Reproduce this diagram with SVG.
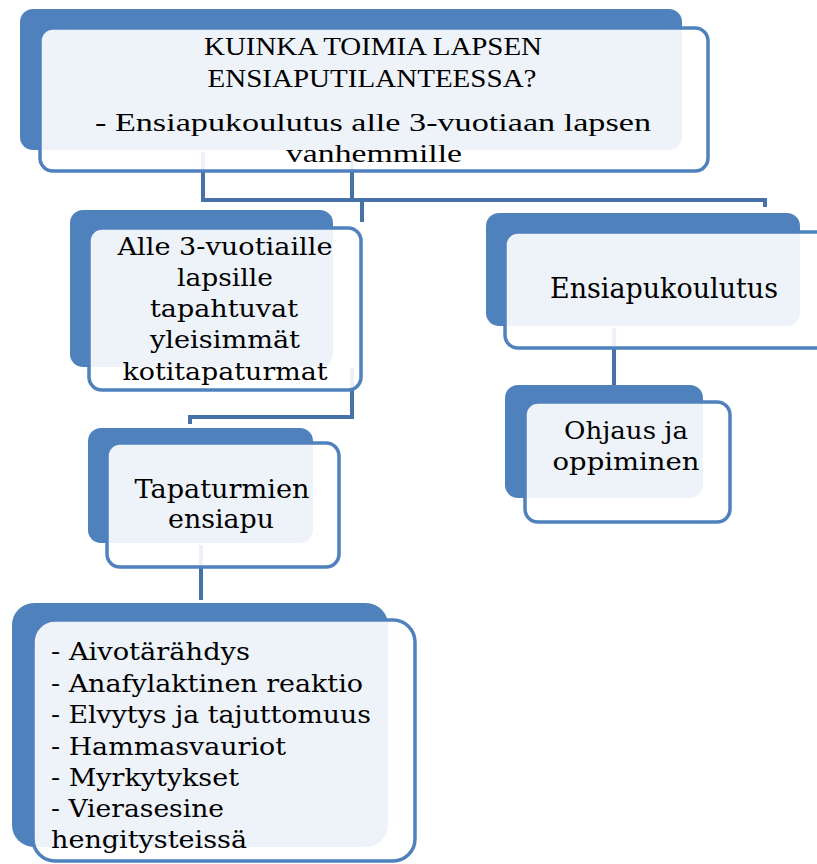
<svg xmlns="http://www.w3.org/2000/svg" width="817" height="864" viewBox="0 0 817 864">
<style>
.back{fill:#4F81BD;}
.front{fill:#FFFFFF;fill-opacity:0.9;stroke:#4F81BD;stroke-width:3.5;}
.conn{fill:none;stroke:#4672A8;stroke-width:4;}
.t{font-size:25px;text-anchor:middle;fill:#000;}
.title{font-size:25px;text-anchor:middle;fill:#000;}
.list{font-size:24px;fill:#000;}
</style>
<rect width="817" height="864" fill="#FFFFFF"/>
<g id="connectors">
<path class="conn" d="M203,152 V200 H765 V207"/>
<path class="conn" d="M352,152 V200"/>
<path class="conn" d="M362,200 V222"/>
<path class="conn" d="M352,368 V417 H190 V424"/>
<path class="conn" d="M614,328 V385"/>
<path class="conn" d="M201,545 V600"/>
</g>
<g id="node-root" font-family="Liberation Serif, serif">
<rect class="back" x="20" y="9" width="662" height="141" rx="13"/>
<rect class="front" x="40" y="28" width="668" height="143" rx="13"/>
<text class="title" x="373" y="55" textLength="338" lengthAdjust="spacingAndGlyphs">KUINKA TOIMIA LAPSEN</text>
<text class="title" x="372" y="87" textLength="329" lengthAdjust="spacingAndGlyphs">ENSIAPUTILANTEESSA?</text>
<text class="title" x="373" y="131" textLength="556" lengthAdjust="spacingAndGlyphs">- Ensiapukoulutus alle 3-vuotiaan lapsen</text>
<text class="title" x="374" y="162" textLength="176" lengthAdjust="spacingAndGlyphs">vanhemmille</text>
</g>
<g id="node-alle" font-family="DejaVu Serif, serif">
<rect class="back" x="70" y="210" width="263" height="157" rx="13"/>
<rect class="front" x="89" y="228" width="272" height="162" rx="13"/>
<text class="t" x="225" y="255" textLength="215" lengthAdjust="spacingAndGlyphs">Alle 3-vuotiaille</text>
<text class="t" x="225" y="286" textLength="96" lengthAdjust="spacingAndGlyphs">lapsille</text>
<text class="t" x="224" y="317" textLength="148" lengthAdjust="spacingAndGlyphs">tapahtuvat</text>
<text class="t" x="225" y="348" textLength="150" lengthAdjust="spacingAndGlyphs">yleisimmät</text>
<text class="t" x="225" y="380" textLength="205" lengthAdjust="spacingAndGlyphs">kotitapaturmat</text>
</g>
<g id="node-ensiapukoulutus" font-family="DejaVu Serif, serif">
<rect class="back" x="486" y="213" width="314" height="113" rx="13"/>
<rect class="front" x="505" y="232" width="330" height="116" rx="13"/>
<text class="t" x="664" y="298" textLength="228" lengthAdjust="spacingAndGlyphs" style="font-size:27px">Ensiapukoulutus</text>
</g>
<g id="node-ohjaus" font-family="DejaVu Serif, serif">
<rect class="back" x="505" y="385" width="198" height="113" rx="13"/>
<rect class="front" x="525" y="402" width="205" height="120" rx="13"/>
<text class="t" x="626" y="439" textLength="124" lengthAdjust="spacingAndGlyphs">Ohjaus ja</text>
<text class="t" x="626" y="470" textLength="147" lengthAdjust="spacingAndGlyphs">oppiminen</text>
</g>
<g id="node-tapaturmien" font-family="DejaVu Serif, serif">
<rect class="back" x="88" y="428" width="225" height="115" rx="13"/>
<rect class="front" x="107" y="443" width="232" height="124" rx="13"/>
<text class="t" x="222" y="498" textLength="175" lengthAdjust="spacingAndGlyphs" style="font-size:26px">Tapaturmien</text>
<text class="t" x="221" y="528" textLength="106" lengthAdjust="spacingAndGlyphs" style="font-size:26px">ensiapu</text>
</g>
<g id="node-list" font-family="DejaVu Serif, serif">
<rect class="back" x="12" y="603" width="376" height="244" rx="22"/>
<rect class="front" x="33" y="620" width="382" height="241" rx="22"/>
<text class="list" x="51" y="660" textLength="199" lengthAdjust="spacingAndGlyphs">- Aivotärähdys</text>
<text class="list" x="51" y="692" textLength="312" lengthAdjust="spacingAndGlyphs">- Anafylaktinen reaktio</text>
<text class="list" x="51" y="723" textLength="320" lengthAdjust="spacingAndGlyphs">- Elvytys ja tajuttomuus</text>
<text class="list" x="51" y="755" textLength="235" lengthAdjust="spacingAndGlyphs">- Hammasvauriot</text>
<text class="list" x="51" y="786" textLength="188" lengthAdjust="spacingAndGlyphs">- Myrkytykset</text>
<text class="list" x="51" y="817" textLength="173" lengthAdjust="spacingAndGlyphs">- Vierasesine</text>
<text class="list" x="51" y="848" textLength="196" lengthAdjust="spacingAndGlyphs">hengitysteissä</text>
</g>
</svg>
